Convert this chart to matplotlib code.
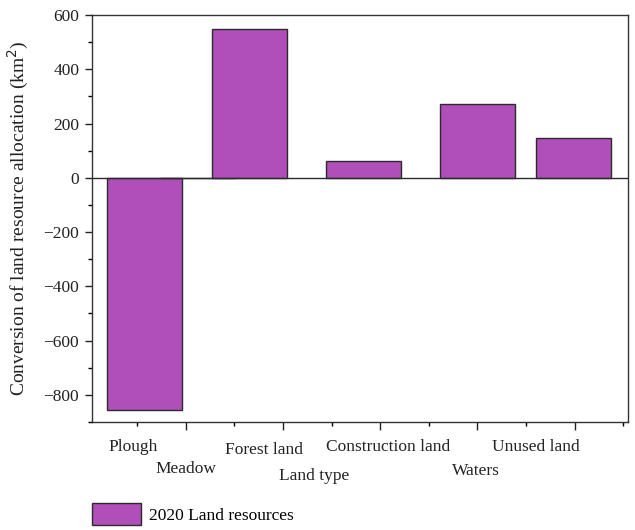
import matplotlib
matplotlib.use("Agg")
import matplotlib.pyplot as plt
from matplotlib.ticker import MultipleLocator

plt.rcParams['font.family'] = ['Liberation Serif', 'DejaVu Serif']
plt.rcParams['axes.unicode_minus'] = True

# Land resource conversion, 2020 (km^2)
categories = ['Plough', 'Meadow', 'Forest land', 'Construction land', 'Waters', 'Unused land']
values = [-855, 0, 550, 63, 271, 146]
series_name = '2020 Land resources'

# layout: bar centres and label anchors along the x axis
bar_x = [0.58, 1.12, 1.66, 2.83, 4.00, 4.99]
label_x = [0.46, 1.00, 1.81, 3.08, 3.99, 4.60]
label_baseline = [451, 473, 454, 451, 475, 451]   # pixel rows from top

W, H = 635, 530
fig = plt.figure(figsize=(W / 100, H / 100), dpi=100)
left, right, top, bottom = 91.7, 627.7, 15, 422
ax = fig.add_axes([left / W, 1 - bottom / H, (right - left) / W, (bottom - top) / H])

bars = ax.bar(bar_x, values, width=0.77, color='#B14FBA', edgecolor='#2b2b2b',
              linewidth=1.0, label=series_name, zorder=2)
ax.axhline(0, color='#2b2b2b', linewidth=1.0, zorder=3)

ax.set_xlim(0.033, 5.547)
ax.set_ylim(-900, 600)
ax.yaxis.set_major_locator(MultipleLocator(200))
ax.yaxis.set_minor_locator(MultipleLocator(100))
ax.xaxis.set_major_locator(MultipleLocator(1))
ax.xaxis.set_minor_locator(MultipleLocator(0.5))
ax.set_xticklabels([])
ax.tick_params(axis='both', which='major', direction='out', length=5, width=1,
               labelsize=12.5, colors='#222222', pad=4)
ax.tick_params(axis='both', which='minor', direction='out', length=3, width=1)
ax.tick_params(axis='x', which='major', length=6)
for sp in ax.spines.values():
    sp.set_color('#333333')
    sp.set_linewidth(1.0)

ax.set_ylabel('Conversion of land resource allocation (km$^2$)', fontsize=14,
              color='#222222', labelpad=9)

# staggered category labels under the axis
fs = 12.5
trans = ax.get_xaxis_transform()
axh = bottom - top
for name, lx, by in zip(categories, label_x, label_baseline):
    ax.text(lx, (bottom - by) / axh, name, transform=trans, ha='center',
            va='baseline', fontsize=fs, color='#222222')
ax.text(2.32, (bottom - 480) / axh, 'Land type', transform=trans, ha='center',
        va='baseline', fontsize=fs, color='#222222')

fig.legend(handles=[bars], labels=[series_name], loc='lower left',
           bbox_to_anchor=(0.1265, -0.014), frameon=False, fontsize=fs,
           handlelength=2.8, handleheight=1.6, handletextpad=0.45, borderpad=0.2)

fig.savefig('out.png', dpi=100)
